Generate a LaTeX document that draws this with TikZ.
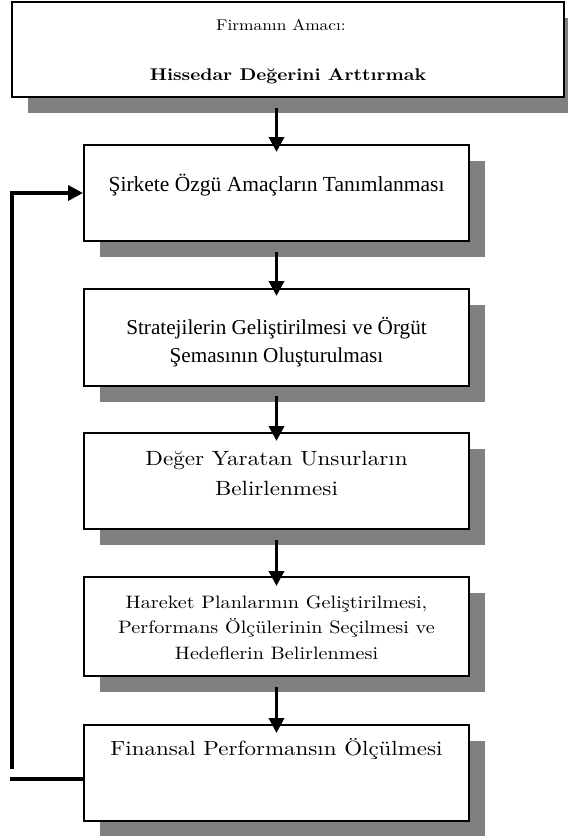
\documentclass[tikz,border=0pt]{standalone}
\usepackage{fontspec}
\usetikzlibrary{arrows.meta,shadows}
% Century-like serif: widened Latin Modern
\setmainfont{lmroman10}[Extension=.otf, UprightFont=*-regular, BoldFont=*-bold, FakeStretch=1.12]
\newfontfamily\timesfont{Liberation Serif}
\definecolor{shadowgray}{HTML}{808080}
\begin{document}
\begin{tikzpicture}[x=1pt,y=-1pt,
  stagebox/.style={draw=black, line width=2pt, fill=white, inner sep=0pt,
    minimum width=385pt, minimum height=96pt,
    drop shadow={shadow xshift=16pt, shadow yshift=-16pt, fill=shadowgray, opacity=1}},
  label/.style={align=center, inner sep=0pt},
  flow/.style={line width=3.5pt, -{Triangle[length=15pt,width=15pt]}},
  loop/.style={line width=3.5pt}]
\useasboundingbox (0,0) rectangle (568,836);

% stages
\node[stagebox, minimum width=552pt, minimum height=95pt] (goal) at (288,49.5) {};
\node[stagebox] (s1) at (276.5,193) {};
\node[stagebox, minimum height=97pt] (s2) at (276.5,337.5) {};
\node[stagebox] (s3) at (276.5,481) {};
\node[stagebox, minimum height=99pt] (s4) at (276.5,626.5) {};
\node[stagebox] (s5) at (276.5,773) {};

% texts
\node[label, font=\fontsize{15.5}{18}\selectfont] (goalA) at (281,25) {Firmanın Amacı:};
\node[label, font=\fontsize{17}{20}\selectfont\bfseries] (goalB) at (288,76) {Hissedar Değerini Arttırmak};
\node[label, font=\timesfont\fontsize{21.5}{25}\selectfont] (t1) at (276.5,185) {Şirkete Özgü Amaçların Tanımlanması};
\node[label, font=\timesfont\fontsize{21.2}{28}\selectfont] (t2) at (276.5,342) {Stratejilerin Geliştirilmesi ve Örgüt\\Şemasının Oluşturulması};
\node[label, font=\fontsize{20.6}{30}\selectfont] (t3) at (276.5,473) {Değer Yaratan Unsurların\\Belirlenmesi};
\node[label, font=\fontsize{18}{25.5}\selectfont] (t4) at (276.5,627.5) {Hareket Planlarının Geliştirilmesi,\\Performans Ölçülerinin Seçilmesi ve\\Hedeflerin Belirlenmesi};
\node[label, font=\fontsize{20.5}{24}\selectfont] (t5) at (276.5,749) {Finansal Performansın Ölçülmesi};

% downward flow
\draw[flow] ([yshift=-10pt]goal.south -| s1.south) -- ([yshift=-8pt]s1.north);
\draw[flow] ([yshift=-10pt]s1.south) -- ([yshift=-8pt]s2.north);
\draw[flow] ([yshift=-9pt]s2.south) -- ([yshift=-9pt]s3.north);
\draw[flow] ([yshift=-10pt]s3.south) -- ([yshift=-10pt]s4.north);
\draw[flow] ([yshift=-10pt]s4.south) -- ([yshift=-9pt]s5.north);

% feedback loop
\coordinate (loopEnd) at (12,769);
\coordinate (loopOut) at (10.25,779);
\draw[loop] (loopOut) -- (loopOut -| s5.west);
\draw[loop, -{Triangle[length=15pt,width=15pt]}] (loopEnd) |- (s1.west);
\end{tikzpicture}
\end{document}
